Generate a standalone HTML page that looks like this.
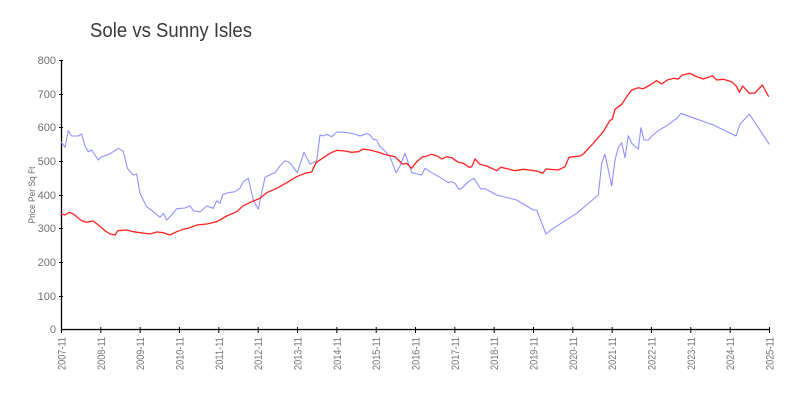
<!DOCTYPE html>
<html><head><meta charset="utf-8"><style>
html,body{margin:0;padding:0;background:#fff;}
svg{display:block;}
text{font-family:"Liberation Sans",sans-serif;}
</style></head><body>
<svg width="800" height="400" viewBox="0 0 800 400" xmlns="http://www.w3.org/2000/svg">
<rect width="800" height="400" fill="#fff"/>
<text x="90" y="37" font-size="20" fill="#3a3a3a" textLength="162" lengthAdjust="spacingAndGlyphs" font-weight="300">Sole vs Sunny Isles</text>
<text transform="translate(35,195) rotate(-90)" text-anchor="middle" font-size="9.5" fill="#666" textLength="57" lengthAdjust="spacingAndGlyphs">Price Per Sq Ft</text>
<g font-size="11" fill="#707070" text-anchor="end">
<text x="56" y="64">800</text>
<text x="56" y="98">700</text>
<text x="56" y="131">600</text>
<text x="56" y="165">500</text>
<text x="56" y="199">400</text>
<text x="56" y="232">300</text>
<text x="56" y="266">200</text>
<text x="56" y="300">100</text>
<text x="56" y="333">0</text>
</g>
<g stroke="#000" stroke-width="1">
<line x1="59" y1="60.5" x2="63" y2="60.5"/>
<line x1="59" y1="94.5" x2="63" y2="94.5"/>
<line x1="59" y1="127.5" x2="63" y2="127.5"/>
<line x1="59" y1="161.5" x2="63" y2="161.5"/>
<line x1="59" y1="195.5" x2="63" y2="195.5"/>
<line x1="59" y1="228.5" x2="63" y2="228.5"/>
<line x1="59" y1="262.5" x2="63" y2="262.5"/>
<line x1="59" y1="296.5" x2="63" y2="296.5"/>
</g>
<line x1="61" y1="331" x2="769" y2="331" stroke="#ccc" stroke-width="1" stroke-dasharray="1,1"/>
<line x1="61.5" y1="60" x2="61.5" y2="330" stroke="#000" stroke-width="1.3"/>
<line x1="61" y1="329.5" x2="770" y2="329.5" stroke="#000" stroke-width="1.3"/>
<g stroke="#000" stroke-width="1">
<line x1="61.5" y1="327" x2="61.5" y2="333"/>
<line x1="100.8" y1="327" x2="100.8" y2="333"/>
<line x1="140.2" y1="327" x2="140.2" y2="333"/>
<line x1="179.5" y1="327" x2="179.5" y2="333"/>
<line x1="218.8" y1="327" x2="218.8" y2="333"/>
<line x1="258.2" y1="327" x2="258.2" y2="333"/>
<line x1="297.5" y1="327" x2="297.5" y2="333"/>
<line x1="336.8" y1="327" x2="336.8" y2="333"/>
<line x1="376.2" y1="327" x2="376.2" y2="333"/>
<line x1="415.5" y1="327" x2="415.5" y2="333"/>
<line x1="454.8" y1="327" x2="454.8" y2="333"/>
<line x1="494.2" y1="327" x2="494.2" y2="333"/>
<line x1="533.5" y1="327" x2="533.5" y2="333"/>
<line x1="572.8" y1="327" x2="572.8" y2="333"/>
<line x1="612.2" y1="327" x2="612.2" y2="333"/>
<line x1="651.5" y1="327" x2="651.5" y2="333"/>
<line x1="690.8" y1="327" x2="690.8" y2="333"/>
<line x1="730.2" y1="327" x2="730.2" y2="333"/>
<line x1="769.5" y1="327" x2="769.5" y2="333"/>
</g>
<g font-size="11" fill="#777" text-anchor="end">
<text transform="translate(65.5,337) rotate(-90)" textLength="33" lengthAdjust="spacingAndGlyphs">2007-11</text>
<text transform="translate(104.8,337) rotate(-90)" textLength="33" lengthAdjust="spacingAndGlyphs">2008-11</text>
<text transform="translate(144.2,337) rotate(-90)" textLength="33" lengthAdjust="spacingAndGlyphs">2009-11</text>
<text transform="translate(183.5,337) rotate(-90)" textLength="33" lengthAdjust="spacingAndGlyphs">2010-11</text>
<text transform="translate(222.8,337) rotate(-90)" textLength="33" lengthAdjust="spacingAndGlyphs">2011-11</text>
<text transform="translate(262.2,337) rotate(-90)" textLength="33" lengthAdjust="spacingAndGlyphs">2012-11</text>
<text transform="translate(301.5,337) rotate(-90)" textLength="33" lengthAdjust="spacingAndGlyphs">2013-11</text>
<text transform="translate(340.8,337) rotate(-90)" textLength="33" lengthAdjust="spacingAndGlyphs">2014-11</text>
<text transform="translate(380.2,337) rotate(-90)" textLength="33" lengthAdjust="spacingAndGlyphs">2015-11</text>
<text transform="translate(419.5,337) rotate(-90)" textLength="33" lengthAdjust="spacingAndGlyphs">2016-11</text>
<text transform="translate(458.8,337) rotate(-90)" textLength="33" lengthAdjust="spacingAndGlyphs">2017-11</text>
<text transform="translate(498.2,337) rotate(-90)" textLength="33" lengthAdjust="spacingAndGlyphs">2018-11</text>
<text transform="translate(537.5,337) rotate(-90)" textLength="33" lengthAdjust="spacingAndGlyphs">2019-11</text>
<text transform="translate(576.8,337) rotate(-90)" textLength="33" lengthAdjust="spacingAndGlyphs">2020-11</text>
<text transform="translate(616.2,337) rotate(-90)" textLength="33" lengthAdjust="spacingAndGlyphs">2021-11</text>
<text transform="translate(655.5,337) rotate(-90)" textLength="33" lengthAdjust="spacingAndGlyphs">2022-11</text>
<text transform="translate(694.8,337) rotate(-90)" textLength="33" lengthAdjust="spacingAndGlyphs">2023-11</text>
<text transform="translate(734.2,337) rotate(-90)" textLength="33" lengthAdjust="spacingAndGlyphs">2024-11</text>
<text transform="translate(773.5,337) rotate(-90)" textLength="33" lengthAdjust="spacingAndGlyphs">2025-11</text>
</g>
<polyline fill="none" stroke="#9090ff" stroke-width="1.1" stroke-linejoin="round" points="61,141.7 65,147.3 68.3,130.7 71.7,136 78.3,136 81.7,134 85,146 88.3,151.7 91.7,150 98.3,160 101.7,156.7 106.7,155.3 111.7,152.7 118.3,148.3 123.3,151.3 127.3,168.3 133.3,175 136.7,174 140,193.3 146.7,206.7 153.3,211.7 160,217.3 163.3,213.3 166.7,220 171.7,215 176.7,208.7 185,208 190,205.7 193.3,210.7 200,212 206.7,206 213.3,208.3 216.7,200.7 220,203.3 222.7,194.7 228.3,192.7 235,191.7 240,188.3 243.3,181.7 248.3,178.3 253.3,200 258.3,209.3 265,177.3 271.7,174 275,172.7 280,166 285,160.7 290,162.7 297.3,172.7 304,152.3 310,164.3 316.7,160.7 320,135 323.3,136 326.7,134.3 331.7,136.7 336.7,132 345,132.3 355,134 360,136 366.7,133.7 370,135 373.3,139.3 376.7,140 380,146.7 385,151 390,156.7 396,172.7 400,166 405,153.3 411.7,172.7 421.7,175 425,168.3 430,171.7 440,177.3 448.3,182.7 451.7,181.7 455,183.3 459,189.3 461.7,188.3 468.3,181.7 474,178.3 480.7,189 485,188.7 496.7,195 516.7,200 533.3,210 536.7,210 546,234 553.3,228.3 576.7,213.3 598.3,195 601.7,163.3 605,154 611.7,186 615,160 618.3,147.3 621.7,142.7 625,157.7 628.3,135.7 631.7,143.3 638.3,149 641,127.7 644,140 648.3,140 651.7,136 658.3,130.7 666.7,125.7 676.7,118.3 681,113.3 690,116.7 713.3,125 736,136 740,124.3 749.3,114 769.3,144.3"/>
<polyline fill="none" stroke="#ff2020" stroke-width="1.3" stroke-linejoin="round" points="61,214 65,215 69.3,212.3 73.3,214 81.7,220.7 86.7,222.3 93.3,221 98.3,225 105,230.7 110,234 115,235 117.7,230.7 126.7,230 133.3,231.7 140,232.7 150,234 156.7,232 163.3,232.7 170,235 176.7,231.7 183.3,229.3 188.3,228.3 196.7,225 206.7,224 216.7,221.7 226.7,216 236.7,211.7 243.3,205.7 251.7,201.7 260,198.3 266.7,192.7 276.7,188.3 286.7,182.7 296.7,176.7 305,173.3 311.7,172 316,162.7 323.3,157.7 330,153.3 336.7,150.3 345,151 351.7,152.3 358.3,151.7 363.3,149 370,150 378.3,152.3 386.7,155 395,156.7 402.7,164.3 406.7,163.3 411.7,168.3 416.7,161.7 422.7,156.7 425,156.7 431.7,154.3 436.7,155.7 441.7,159 446.7,156.7 451.7,157.7 458.3,162.3 463.3,163.3 469.3,167.3 471.7,166.7 475,159 480,164.3 486.7,166 496.7,170.7 500.7,167.3 508.3,169 515,170.7 523.3,169.3 536.7,171 542.7,173.3 546,169 558.3,170 565,166.7 569,157.3 580,156 583.3,154 593.3,143.3 603.3,131.7 610,120.3 612.3,119.3 615,109.3 621.7,104.3 626.7,96.7 631.7,90 638.3,87.7 643.3,88.7 650,85 656.7,80.7 661.7,84 667.3,80 674,78.3 678.3,79 681.7,75.3 690,73.3 695,76 703.3,79 708.3,77.3 712.3,75.7 716.7,80 723.3,79.3 731.7,81.7 736.7,86.7 739.3,92.3 742.7,86 749.3,93.3 755,93 762.3,85 768.7,96.7"/>
</svg>
</body></html>
